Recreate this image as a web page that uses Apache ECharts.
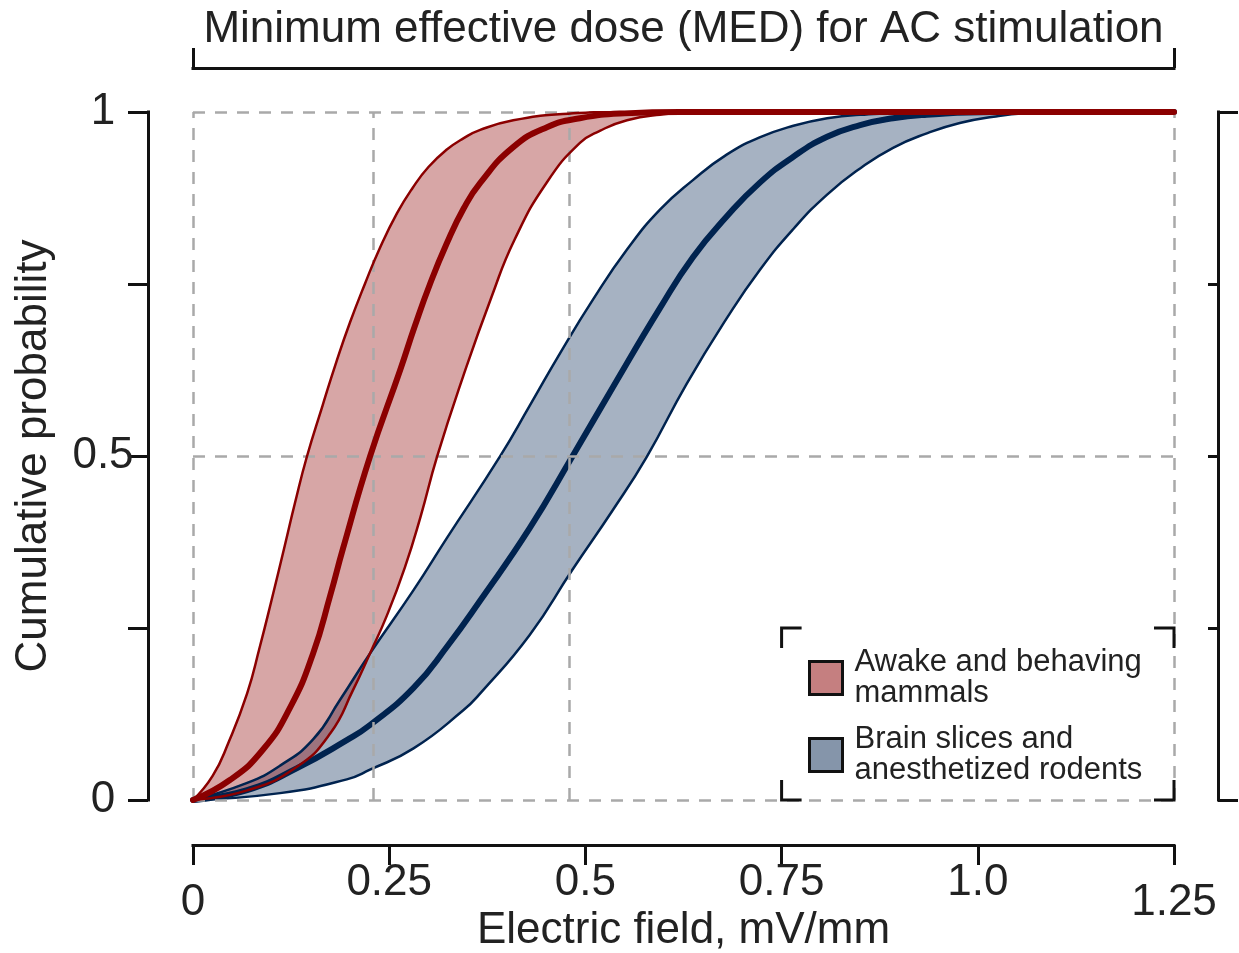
<!DOCTYPE html>
<html>
<head>
<meta charset="utf-8">
<script src="https://cdn.jsdelivr.net/npm/echarts@6/dist/echarts.min.js"></script>
<style>
  html, body { margin: 0; padding: 0; background: #fff; }
  #chart { width: 1239px; height: 953px; }
</style>
</head>
<body>
<div id="chart"></div>
<script>
// curves: [electric field, cumulative probability]
const redLeft = [[0, 0], [0.025, 0.035], [0.045, 0.083], [0.069, 0.155], [0.085, 0.222], [0.1, 0.29],
  [0.117, 0.37], [0.13, 0.432], [0.145, 0.4985], [0.165, 0.573], [0.183, 0.638], [0.2, 0.694], [0.219, 0.75],
  [0.238, 0.802], [0.26, 0.853], [0.28, 0.89], [0.3, 0.92], [0.323, 0.945], [0.345, 0.962], [0.366, 0.974],
  [0.408, 0.988], [0.471, 0.997], [0.55, 1], [1.25, 1]]
const redMid = [[0, 0], [0.047, 0.029], [0.089, 0.073], [0.124, 0.135], [0.153, 0.213], [0.175, 0.298],
  [0.191, 0.365], [0.2255, 0.499], [0.264, 0.625], [0.283, 0.69], [0.302, 0.75], [0.323, 0.808], [0.345, 0.86],
  [0.366, 0.897], [0.408, 0.949], [0.451, 0.978], [0.493, 0.991], [0.55, 0.998], [0.62, 1], [1.25, 1]]
const redRight = [[0, 0], [0.069, 0.014], [0.132, 0.048], [0.175, 0.097], [0.204, 0.16], [0.2255, 0.213],
  [0.247, 0.268], [0.27, 0.338], [0.29, 0.412], [0.311, 0.499], [0.344, 0.615], [0.38, 0.73], [0.41, 0.815],
  [0.451, 0.898], [0.493, 0.955], [0.519, 0.973], [0.553, 0.988], [0.595, 0.996], [0.65, 1], [1.25, 1]]

const blueLeft = [[0, 0], [0.069, 0.025], [0.111, 0.05], [0.153, 0.088], [0.187, 0.145], [0.2255, 0.213],
  [0.281, 0.305], [0.323, 0.38], [0.391, 0.499], [0.43, 0.575], [0.468, 0.65], [0.51, 0.728], [0.553, 0.8],
  [0.595, 0.858], [0.637, 0.901], [0.68, 0.938], [0.722, 0.963], [0.765, 0.98], [0.808, 0.991], [0.85, 0.996],
  [0.95, 1], [1.25, 1]]
const blueMid = [[0, 0], [0.069, 0.0145], [0.132, 0.046], [0.196, 0.087], [0.2255, 0.109], [0.281, 0.163],
  [0.325, 0.225], [0.366, 0.29], [0.429, 0.395], [0.483, 0.4985], [0.535, 0.6], [0.595, 0.715], [0.637, 0.789],
  [0.68, 0.848], [0.722, 0.897], [0.765, 0.935], [0.808, 0.964], [0.85, 0.981], [0.892, 0.991], [0.935, 0.996],
  [1.02, 1], [1.25, 1]]
const blueRight = [[0, 0], [0.111, 0.01], [0.196, 0.03], [0.2255, 0.044], [0.281, 0.075], [0.344, 0.13],
  [0.366, 0.155], [0.429, 0.24], [0.483, 0.334], [0.535, 0.4215], [0.578, 0.4985], [0.629, 0.605], [0.68, 0.7],
  [0.722, 0.77], [0.765, 0.83], [0.808, 0.88], [0.85, 0.918], [0.892, 0.948], [0.935, 0.969], [0.977, 0.984],
  [1.02, 0.993], [1.06, 0.998], [1.12, 1], [1.25, 1]]

// dashed guide lines
const refX = [0, 0.2255, 0.483, 1.25]
const refY = [0, 0.5, 1]

const xTickLabels = ['0', '0.25', '0.5', '0.75', '1.0', '1.25']
const yTickLabels = ['0', '', '0.5', '', '1']

const redName = 'Awake and behaving\nmammals'
const blueName = 'Brain slices and\nanesthetized rodents'

const RED = '#8b0000'
const BLUE = '#00234f'
const INK = '#111'
const FONT = 'Liberation Sans, Arial, sans-serif'
const SMOOTH = 0.5

const chart = echarts.init(document.getElementById('chart'))

function bandSeries(name, left, right, fill, z) {
  const pts = left.concat(right.slice().reverse())
  return {
    name: name,
    type: 'custom',
    z: z,
    silent: true,
    data: pts,
    encode: { x: 0, y: 1 },
    renderItem: function (params, api) {
      if (params.dataIndex !== 0) return
      return {
        type: 'polygon',
        shape: { points: pts.map(function (p) { return api.coord(p) }), smooth: SMOOTH },
        style: { fill: fill, stroke: 'none' }
      }
    }
  }
}

function curve(data, color, width, z) {
  return {
    type: 'line',
    data: data,
    z: z,
    silent: true,
    showSymbol: false,
    smooth: SMOOTH,
    lineStyle: { color: color, width: width, cap: 'round' }
  }
}

function axisLine() {
  return { show: true, onZero: false, lineStyle: { color: INK, width: 3, cap: 'square' } }
}
const tickStyle = { color: INK, width: 3 }

chart.setOption({
  animation: false,
  textStyle: { fontFamily: FONT },
  grid: { left: 193, right: 65, top: 112, bottom: 153, containLabel: false, outerBoundsMode: 'none' },
  legend: {
    orient: 'vertical',
    left: 808,
    top: 647,
    padding: 0,
    itemWidth: 33,
    itemHeight: 33,
    itemGap: 15,
    selectedMode: false,
    textStyle: { fontSize: 31, lineHeight: 31, color: '#222', fontFamily: FONT, padding: [0, 0, 0, 7] },
    data: [
      { name: redName, icon: 'rect', itemStyle: { color: '#c57f80', borderColor: INK, borderWidth: 3 } },
      { name: blueName, icon: 'rect', itemStyle: { color: '#8595aa', borderColor: INK, borderWidth: 3 } }
    ]
  },
  xAxis: [
    {
      type: 'value', min: 0, max: 1.25, interval: 0.25, position: 'bottom', offset: 45,
      axisLine: axisLine(),
      axisTick: { show: true, length: 20, lineStyle: tickStyle },
      splitLine: { show: false },
      axisLabel: {
        margin: 16, color: '#222', fontSize: 44, showMinLabel: true, showMaxLabel: true,
        formatter: function (v) {
          const i = Math.round(v / 0.25)
          const t = xTickLabels[i]
          return (i === 0 || i === xTickLabels.length - 1) ? '{lo|' + t + '}' : '{n|' + t + '}'
        },
        rich: {
          n: { fontSize: 44, color: '#222', fontFamily: FONT },
          lo: { fontSize: 44, color: '#222', fontFamily: FONT, padding: [20, 0, 0, 0] }
        }
      },
      name: 'Electric field, mV/mm', nameLocation: 'middle', nameGap: 64, nameMoveOverlap: false,
      nameTextStyle: { fontSize: 44, color: '#222', fontFamily: FONT }
    },
    {
      type: 'value', min: 0, max: 1.25, position: 'top', offset: 44,
      axisLine: axisLine(),
      axisTick: { show: true, length: 20, lineStyle: tickStyle, customValues: [0, 1.25] },
      axisLabel: { show: false },
      splitLine: { show: false },
      name: 'Minimum effective dose (MED) for AC stimulation', nameLocation: 'middle', nameGap: 16,
      nameTextStyle: { fontSize: 44, color: '#222', fontFamily: FONT }
    }
  ],
  yAxis: [
    {
      type: 'value', min: 0, max: 1, interval: 0.25, position: 'left', offset: 45,
      axisLine: axisLine(),
      axisTick: { show: true, length: 20, lineStyle: tickStyle },
      splitLine: { show: false },
      axisLabel: {
        margin: 45, align: 'center', color: '#222', fontSize: 44, fontFamily: FONT,
        formatter: function (v) { return yTickLabels[Math.round(v / 0.25)] }
      },
      name: 'Cumulative probability', nameLocation: 'middle', nameGap: 92, nameMoveOverlap: false,
      nameTextStyle: { fontSize: 44, color: '#222', fontFamily: FONT }
    },
    {
      type: 'value', min: 0, max: 1, position: 'right', offset: 44,
      axisLine: axisLine(),
      axisTick: { show: true, inside: true, length: 10, lineStyle: tickStyle, customValues: [0.25, 0.5, 0.75] },
      axisLabel: { show: false },
      splitLine: { show: false }
    },
    {
      type: 'value', min: 0, max: 1, position: 'right', offset: 44,
      axisLine: { show: false, onZero: false },
      axisTick: { show: true, length: 20, lineStyle: tickStyle, customValues: [0, 1] },
      axisLabel: { show: false },
      splitLine: { show: false }
    }
  ],
  series: [
    {
      type: 'line', data: [], z: 1, silent: true,
      markLine: {
        silent: true, symbol: 'none', animation: false,
        label: { show: false },
        lineStyle: { color: '#a9a9a9', width: 2.5, type: [12, 10] },
        data: refX.map(function (v) { return { xAxis: v } }).concat(refY.map(function (v) { return { yAxis: v } }))
      }
    },
    bandSeries(blueName, blueLeft, blueRight, 'rgba(0,35,79,0.35)', 2),
    bandSeries(redName, redLeft, redRight, 'rgba(139,0,0,0.35)', 3),
    curve(blueLeft, BLUE, 2.5, 4),
    curve(blueRight, BLUE, 2.5, 4),
    curve(blueMid, BLUE, 6, 4),
    curve(redLeft, RED, 2.5, 5),
    curve(redRight, RED, 2.5, 5),
    curve(redMid, RED, 6, 5)
  ]
})

// corner brackets around the legend, placed in data space
const legendBox = { x0: 0.75, x1: 1.25, y0: 0.25, y1: 0 }
const a = chart.convertToPixel({ gridIndex: 0 }, [legendBox.x0, legendBox.y0])
const b = chart.convertToPixel({ gridIndex: 0 }, [legendBox.x1, legendBox.y1])
const arm = 20
const corners = [
  [[a[0], a[1] + arm], [a[0], a[1]], [a[0] + arm, a[1]]],
  [[b[0] - arm, a[1]], [b[0], a[1]], [b[0], a[1] + arm]],
  [[a[0], b[1] - arm], [a[0], b[1]], [a[0] + arm, b[1]]],
  [[b[0] - arm, b[1]], [b[0], b[1]], [b[0], b[1] - arm]]
]
chart.setOption({
  graphic: corners.map(function (pts) {
    return { type: 'polyline', z: 100, silent: true, shape: { points: pts }, style: { stroke: INK, lineWidth: 3, fill: 'none' } }
  })
})
</script>
</body>
</html>
